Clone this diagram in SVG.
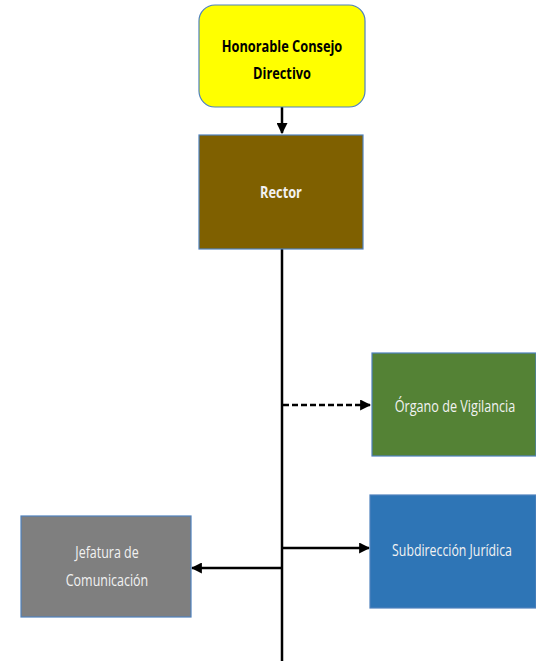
<svg xmlns="http://www.w3.org/2000/svg" width="536" height="661" viewBox="0 0 536 661">
<style>
.box{stroke:#4F81BD;stroke-width:1.2}
.t{font-family:"Open Sans","Liberation Sans",sans-serif;font-size:16px;text-anchor:middle}
.w{fill:#F2F2F2}
.line{stroke:#000;stroke-width:2.5;fill:none}
</style>
<defs>
<marker id="ah" viewBox="0 0 10 10" refX="9" refY="5" markerWidth="4.4" markerHeight="4.4" orient="auto" markerUnits="strokeWidth">
<path d="M0,0 L10,5 L0,10 z" fill="#000"/>
</marker>
</defs>
<rect width="536" height="661" fill="#fff"/>
<g id="connectors">
<line class="line" x1="282" y1="107" x2="282" y2="133" marker-end="url(#ah)"/>
<line class="line" x1="282" y1="249" x2="282" y2="661"/>
<line class="line" x1="283" y1="405" x2="370" y2="405" stroke-dasharray="6,3" marker-end="url(#ah)"/>
<line class="line" x1="283" y1="548" x2="369" y2="548" marker-end="url(#ah)"/>
<line class="line" x1="281" y1="568" x2="192" y2="568" marker-end="url(#ah)"/>
</g>
<g id="consejo">
<rect class="box" x="199" y="5" width="166" height="102" rx="16" fill="#FFFF00" stroke-width="1.5"/>
<text class="t" transform="translate(282,52) scale(0.8,1)" font-weight="bold" fill="#000">Honorable Consejo</text>
<text class="t" transform="translate(282,79) scale(0.8,1)" font-weight="bold" fill="#000">Directivo</text>
</g>
<g id="rector">
<rect class="box" x="199" y="135" width="164" height="114" fill="#7F6000"/>
<text class="t w" transform="translate(281,198) scale(0.8,1)" font-weight="bold">Rector</text>
</g>
<g id="organo">
<rect class="box" x="372" y="353" width="164" height="103" fill="#548235"/>
<text class="t w" transform="translate(455,412) scale(0.79,1)">Órgano de Vigilancia</text>
</g>
<g id="subdireccion">
<rect class="box" x="370" y="495" width="166" height="113" fill="#2E75B6"/>
<text class="t w" transform="translate(452,556) scale(0.77,1)">Subdirección Jurídica</text>
</g>
<g id="jefatura">
<rect class="box" x="21" y="516" width="170" height="101" fill="#7F7F7F"/>
<text class="t w" transform="translate(107,558) scale(0.78,1)">Jefatura de</text>
<text class="t w" transform="translate(107,586) scale(0.78,1)">Comunicación</text>
</g>
</svg>
